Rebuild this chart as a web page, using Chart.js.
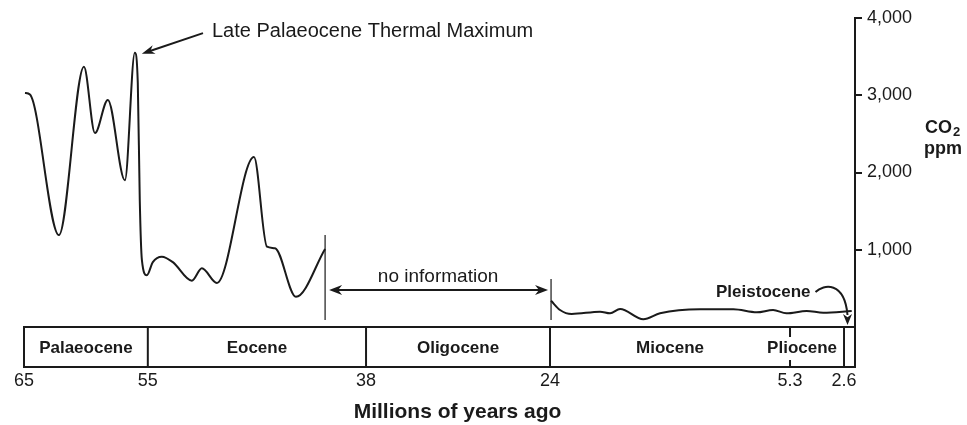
<!DOCTYPE html>
<html>
<head>
<meta charset="utf-8">
<title>CO2 over the last 65 million years</title>
<script src="https://cdn.jsdelivr.net/npm/chart.js@4.4.1/dist/chart.umd.min.js"></script>
<style>
  html, body { margin: 0; padding: 0; background: #fff; }
</style>
</head>
<body>
<canvas id="canvas" width="967" height="425"></canvas>
<script>
// values: age in millions of years ago, CO2 in ppm
const palaeogeneAges = [64.92, 64.52, 62.18, 60.16, 59.27, 58.23, 56.85, 56.05, 55.81, 55.65, 55.48, 55.08,
                        54.61, 53.91, 53.05, 51.57, 50.79, 49.62, 46.73, 45.72, 45.09, 43.46, 41.19];
const palaeogeneCO2  = [3030, 3010, 1190, 3370, 2510, 2940, 1900, 3550, 3160, 1640, 870, 670,
                        840, 910, 840, 600, 760, 570, 2200, 1040, 1020, 390, 1010];

const neogeneAges = [23.92, 23.22, 22.31, 20.10, 19.32, 18.54, 16.73, 15.43, 12.31, 9.71, 7.89, 6.62, 5.58, 4.47, 3.64, 0.78];
const neogeneCO2  = [340, 220, 168, 198, 177, 233, 100, 177, 229, 229, 190, 220, 177, 207, 185, 207];

const epochNames  = ['Palaeocene', 'Eocene', 'Oligocene', 'Miocene', 'Pliocene', 'Pleistocene'];
const epochStarts = [65, 55, 38, 24, 5.3, 2.6];
const epochEnd = 0;

const ageTicks = [65, 55, 38, 24, 5.3, 2.6];
const co2Ticks = [1000, 2000, 3000, 4000];

const ink = '#1a1a1a';
const family = '"Liberation Sans", Arial, Helvetica, sans-serif';

// the time axis of the figure is not quite uniform (the last epochs are stretched),
// so a linear scale that maps piecewise between the epoch boundaries
class EpochScale extends Chart.LinearScale {
  static id = 'epoch';
  static defaults = {};
  _frac(v) {
    const ages = this.options.breakAges, fr = this.options.breakFracs;
    let i = 0;
    while (i < ages.length - 2 && v < ages[i + 1]) i++;
    const t = (ages[i] - v) / (ages[i] - ages[i + 1]);
    return fr[i] + t * (fr[i + 1] - fr[i]);
  }
  getPixelForValue(v) {
    return this.left + this._frac(v) * this.width;
  }
  getValueForPixel(p) {
    const ages = this.options.breakAges, fr = this.options.breakFracs;
    const f = (p - this.left) / this.width;
    let i = 0;
    while (i < fr.length - 2 && f > fr[i + 1]) i++;
    const t = (f - fr[i]) / (fr[i + 1] - fr[i]);
    return ages[i] + t * (ages[i + 1] - ages[i]);
  }
}
Chart.register(EpochScale);

function arrowHead(ctx, tx, ty, fx, fy, len, half) {
  const ang = Math.atan2(ty - fy, tx - fx);
  ctx.save();
  ctx.translate(tx, ty);
  ctx.rotate(ang);
  ctx.beginPath();
  ctx.moveTo(0, 0);
  ctx.lineTo(-len, -half);
  ctx.lineTo(-len * 0.7, 0);
  ctx.lineTo(-len, half);
  ctx.closePath();
  ctx.fill();
  ctx.restore();
}

const annotate = {
  id: 'annotate',
  afterDraw(chart) {
    const { ctx, chartArea: a, scales: { x, y } } = chart;
    const px = v => x.getPixelForValue(v);
    const py = v => y.getPixelForValue(v);
    ctx.save();
    ctx.strokeStyle = ink;
    ctx.fillStyle = ink;

    // epoch bar under the plot
    const top = a.bottom, bot = a.bottom + 40;
    ctx.lineWidth = 2;
    ctx.strokeRect(px(epochStarts[0]), top, px(epochEnd) - px(epochStarts[0]), bot - top);
    ctx.font = 'bold 17px ' + family;
    ctx.textAlign = 'center';
    ctx.textBaseline = 'middle';
    const spans = [];
    epochNames.forEach((name, i) => {
      const x0 = px(epochStarts[i]);
      const x1 = px(i + 1 < epochStarts.length ? epochStarts[i + 1] : epochEnd);
      const w = ctx.measureText(name).width;
      if (x1 - x0 < 30) return; // too narrow, labelled outside
      let cx = (x0 + x1) / 2;
      if (w > x1 - x0 - 12) cx = x1 - 7 - w / 2;
      ctx.fillText(name, cx, top + 21);
      spans.push([cx - w / 2, cx + w / 2]);
    });
    epochStarts.slice(1).forEach(age => {
      const bx = px(age);
      ctx.beginPath();
      if (spans.some(s => bx > s[0] && bx < s[1])) {
        ctx.moveTo(bx, top); ctx.lineTo(bx, top + 10);
        ctx.moveTo(bx, bot - 7); ctx.lineTo(bx, bot);
      } else {
        ctx.moveTo(bx, top); ctx.lineTo(bx, bot);
      }
      ctx.stroke();
    });

    // gap with no information
    const gx0 = px(palaeogeneAges[palaeogeneAges.length - 1]);
    const gx1 = px(neogeneAges[0]);
    ctx.lineWidth = 1.2;
    ctx.beginPath();
    ctx.moveTo(gx0, py(1190)); ctx.lineTo(gx0, top - 7);
    ctx.moveTo(gx1, py(620)); ctx.lineTo(gx1, top - 7);
    ctx.stroke();
    const ay = py(480);
    ctx.lineWidth = 2;
    ctx.beginPath();
    ctx.moveTo(gx0 + 8, ay); ctx.lineTo(gx1 - 8, ay);
    ctx.stroke();
    arrowHead(ctx, gx0 + 4, ay, gx1, ay, 13, 5);
    arrowHead(ctx, gx1 - 3, ay, gx0, ay, 13, 5);
    ctx.font = '19px ' + family;
    ctx.fillText('no information', (gx0 + gx1) / 2, ay - 13);

    // Late Palaeocene Thermal Maximum
    const iMax = palaeogeneCO2.indexOf(Math.max(...palaeogeneCO2));
    const tipX = px(palaeogeneAges[iMax]) + 7, tipY = py(palaeogeneCO2[iMax]) + 1;
    const lx = px(50), ly = py(3830);
    ctx.font = '20px ' + family;
    ctx.textAlign = 'left';
    ctx.fillText('Late Palaeocene Thermal Maximum', lx, ly);
    ctx.beginPath();
    ctx.moveTo(lx - 9, ly + 2); ctx.lineTo(tipX + 6, tipY - 2);
    ctx.stroke();
    arrowHead(ctx, tipX, tipY, lx - 9, ly + 2, 13, 4.5);

    // Pleistocene, labelled above with a curved arrow
    const px2 = (px(epochStarts[5]) + px(epochEnd)) / 2 - 2;
    ctx.font = 'bold 17px ' + family;
    ctx.textAlign = 'right';
    ctx.fillText('Pleistocene', px2 - 37, top - 35);
    ctx.beginPath();
    ctx.moveTo(px2 - 32, top - 35);
    ctx.bezierCurveTo(px2 - 24, top - 43, px2 - 3, top - 46, px2, top - 12);
    ctx.stroke();
    arrowHead(ctx, px2, top - 2, px2, top - 14, 11, 4.5);

    // y axis title
    const tx = y.left + 70;
    ctx.textAlign = 'left';
    ctx.font = 'bold 18px ' + family;
    ctx.fillText('CO', tx, py(2580));
    const coW = ctx.measureText('CO').width;
    ctx.font = 'bold 13px ' + family;
    ctx.fillText('2', tx + coW + 1, py(2580) + 5);
    ctx.font = 'bold 18px ' + family;
    ctx.fillText('ppm', tx - 1, py(2310));

    // x axis title
    ctx.textAlign = 'center';
    ctx.font = 'bold 21px ' + family;
    ctx.fillText('Millions of years ago', (a.left + a.right) / 2 + 18, chart.height - 13);
    ctx.restore();
  }
};

const toPoints = (ages, vals) => ages.map((a, i) => ({ x: a, y: vals[i] }));
const lineStyle = {
  borderColor: ink,
  borderWidth: 2,
  pointRadius: 0,
  fill: false,
  cubicInterpolationMode: 'monotone'
};

new Chart(document.getElementById('canvas'), {
  type: 'line',
  data: {
    datasets: [
      Object.assign({ label: 'Palaeocene–Eocene', data: toPoints(palaeogeneAges, palaeogeneCO2) }, lineStyle),
      Object.assign({ label: 'Miocene–Pleistocene', data: toPoints(neogeneAges, neogeneCO2) }, lineStyle)
    ]
  },
  options: {
    responsive: false,
    animation: false,
    layout: { padding: { left: 24, top: 18, right: 0, bottom: 0 } },
    plugins: { legend: { display: false }, tooltip: { enabled: false } },
    scales: {
      x: {
        type: 'epoch',
        min: 0,
        max: 65,
        breakAges: [65, 55, 38, 24, 5.3, 2.6, 0],
        breakFracs: [0, 0.149, 0.4116, 0.633, 0.9218, 0.9868, 1],
        // invisible tick marks leave room for the epoch bar above the labels
        grid: { display: true, drawOnChartArea: false, drawTicks: true, tickLength: 40, color: 'rgba(0,0,0,0)' },
        border: { display: false },
        afterBuildTicks: s => { s.ticks = ageTicks.map(v => ({ value: v })); },
        afterFit: s => { s.height = 98; },
        ticks: {
          autoSkip: false,
          maxRotation: 0,
          padding: 3,
          color: ink,
          font: { family: family, size: 18 },
          callback: v => String(v)
        }
      },
      y: {
        position: 'right',
        min: 0,
        max: 4000,
        afterBuildTicks: s => { s.ticks = co2Ticks.map(v => ({ value: v })); },
        afterFit: s => { s.width = 112; },
        grid: { drawOnChartArea: false, drawTicks: true, tickLength: 7, color: ink, lineWidth: 2 },
        border: { display: true, color: ink, width: 2 },
        ticks: {
          padding: 5,
          color: ink,
          font: { family: family, size: 18 },
          callback: v => v.toLocaleString('en-US')
        }
      }
    }
  },
  plugins: [annotate]
});
</script>
</body>
</html>
